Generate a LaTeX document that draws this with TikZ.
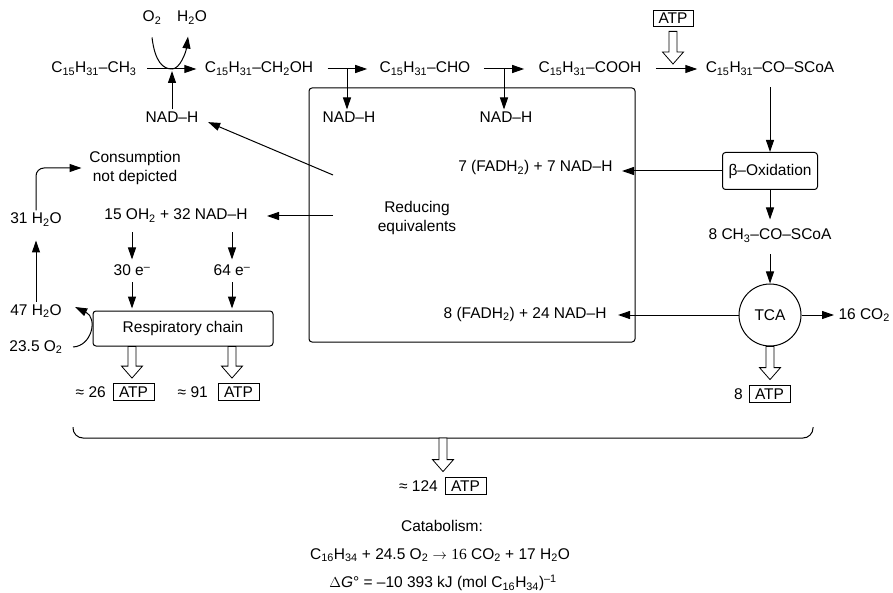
\documentclass[tikz,border=0pt]{standalone}
\usepackage{fontspec}
\setmainfont{Liberation Sans}
\newfontfamily\serifnum{Liberation Serif}
\usetikzlibrary{arrows.meta,positioning,calc}

\newcommand{\chsub}[1]{\textsubscript{#1}}
% hollow block arrow, pointing down
\newcommand{\hollowarrow}[3][0pt]{%
  \draw[hollow] let \p1=(#2), \p2=(#3) in
    (\x1-4pt,\y1-#1) -- (\x1-4pt,\y2+17pt) -- (\x1-10.5pt,\y2+17pt)
    -- (\x1,\y2+5pt) -- (\x1+10.5pt,\y2+17pt) -- (\x1+4pt,\y2+17pt)
    -- (\x1+4pt,\y1-#1) -- cycle;}

\begin{document}
\begin{tikzpicture}[x=1pt, y=-1pt, line width=1pt, font=\fontsize{15.5}{19}\selectfont,
    arr/.style={-{Triangle[length=12pt,width=8pt]}},
    lab/.style={inner sep=2pt, text height=11pt, text depth=3pt},
    roundbox/.style={draw, rounded corners=3pt},
    atpbox/.style={draw, line width=0.8pt, inner sep=0pt, minimum width=41pt, minimum height=17pt, text height=11pt, text depth=0pt},
    hollow/.style={draw, fill=white, line width=0.8pt, line join=miter}]
  \useasboundingbox (0,0) rectangle (893,593);

  % top row
  \node[lab] (ch3) at (94,69) {C\chsub{15}H\chsub{31}–CH\chsub{3}};
  \node[lab] (ch2oh) at (259,69) {C\chsub{15}H\chsub{31}–CH\chsub{2}OH};
  \node[lab] (cho) at (425,69) {C\chsub{15}H\chsub{31}–CHO};
  \node[lab] (cooh) at (590,69) {C\chsub{15}H\chsub{31}–COOH};
  \node[lab] (coscoa) at (770,69) {C\chsub{15}H\chsub{31}–CO–SCoA};
  \node[lab] (o2) at (152,18) {O\chsub{2}};
  \node[lab] (h2o) at (192,18) {H\chsub{2}O};
  \node[lab] (nad0) at (172,119) {NAD–H};
  \node[lab] (nad1) at (349,119) {NAD–H};
  \node[lab] (nad2) at (506,119) {NAD–H};
  \node[atpbox, minimum width=40pt, minimum height=16pt] (atp0) at (673,18) {ATP};
  \coordinate (r1) at (172,69);
  \coordinate (r2) at (347,69);
  \coordinate (r3) at (504,69);
  \coordinate (r4) at (673,69);

  \draw[arr, shorten <=8pt, shorten >=6pt] (ch3) -- (ch2oh);
  \draw[arr, shorten <=12pt, shorten >=10pt] (ch2oh) -- (cho);
  \draw[arr, shorten <=11pt, shorten >=12pt] (cho) -- (cooh);
  \draw[arr, shorten <=12pt, shorten >=6pt] (cooh) -- (coscoa);
  \draw[arr, shorten >=2pt] (nad0) -- (r1);
  \draw[arr] ([yshift=-10pt]o2.south) .. controls (155,62) and (163,69) .. (r1)
    .. controls (180,69) and (186,52) .. ([shift={(-4pt,-9pt)}]h2o.south);
  \draw[arr] (r2) -- (r2 |- nad1.north);
  \draw[arr] (r3) -- (r3 |- nad2.north);
  \hollowarrow[5pt]{atp0.south}{r4}

  % pool of reducing equivalents
  \node[roundbox, minimum width=326pt, minimum height=254pt] (pool) at (472,215) {};
  \node[align=center] (redeq) at (417,218) {Reducing\\equivalents};
  \coordinate (re1) at (333,175);
  \coordinate (re2) at (333,216);

  % right column
  \node[roundbox, minimum width=95pt, minimum height=37pt] (beta) at (770,171) {β–Oxidation};
  \node[lab] (acetyl) at (770,236) {8 CH\chsub{3}–CO–SCoA};
  \node[draw, circle, minimum size=62pt] (tca) at (770,315) {TCA};
  \node[lab, anchor=west] (co2) at (836,315) {16 CO\chsub{2}};
  \node[lab, anchor=east] (fad7) at (615,168) {7 (FADH\chsub{2}) + 7 NAD–H};
  \node[lab, anchor=east] (fad8) at (609,314) {8 (FADH\chsub{2}) + 24 NAD–H};
  \node[atpbox] (atp3) at (769.5,393.5) {ATP};
  \node[base left=2pt of atp3] (n8) {8};

  \draw[arr, shorten <=9pt] (coscoa.south) -- (beta.north);
  \draw[arr, shorten >=7pt] (beta) -- (acetyl);
  \draw[arr, shorten <=9pt] (acetyl) -- (tca);
  \draw[arr, shorten >=7pt] (beta.west) -- (beta.west -| fad7.east);
  \draw[arr, shorten >=9pt] (tca.west) -- (tca.west -| fad8.east);
  \draw[arr, shorten >=2pt] (tca.east) -- (co2.west);
  \hollowarrow{tca.south}{atp3.north}

  % left column
  \node[lab, anchor=east] (oh) at (250,216) {15 OH\chsub{2} + 32 NAD–H};
  \node[lab] (e30) at (132,272) {30 e\textsuperscript{–}};
  \node[lab] (e64) at (232,272) {64 e\textsuperscript{–}};
  \node[roundbox, minimum width=180pt, minimum height=35pt] (resp) at (183,328.5) {Respiratory chain};
  \node[atpbox] (atp1) at (133.5,392) {ATP};
  \node[atpbox] (atp2) at (238.5,392) {ATP};
  \node[base left=3pt of atp1] (n26) {≈ 26};
  \node[base left=6pt of atp2] (n91) {≈ 91};
  \node[lab] (w31) at (36,220) {31 H\chsub{2}O};
  \node[lab] (w47) at (36,311) {47 H\chsub{2}O};
  \node[lab] (o235) at (36,347) {23.5 O\chsub{2}};
  \node[align=center] (cons) at (135,168) {Consumption\\not depicted};

  \draw[arr, shorten >=8pt] (re1) -- (nad0.east);
  \draw[arr, shorten >=17pt] (re2) -- (oh.east);
  \draw[arr, shorten <=7pt, shorten >=3pt] (e30 |- oh.south) -- (e30.north);
  \draw[arr, shorten <=7pt, shorten >=3pt] (e64 |- oh.south) -- (e64.north);
  \draw[arr, shorten <=1pt, shorten >=2pt] (e30.south) -- (e30.south |- resp.north);
  \draw[arr, shorten <=1pt, shorten >=2pt] (e64.south) -- (e64.south |- resp.north);
  \hollowarrow{e30 |- resp.south}{e30 |- atp1.north}
  \hollowarrow{e64 |- resp.south}{e64 |- atp2.north}
  \draw[arr, shorten >=11pt] (w47) -- (w31);
  \draw[arr, rounded corners=8pt, shorten >=4pt] (w31.north) |- (cons.west);
  \draw[arr] ([xshift=8pt]o235.east) .. controls (92,346) and (98,318) .. ([xshift=11pt,yshift=4pt]w47.east);

  % total yield
  \coordinate (sum) at (443,438);
  \draw[rounded corners=10pt] (73,427) |- (sum) -| (813,427);
  \node[atpbox] (atp4) at (465.5,485.5) {ATP};
  \node[base left=3pt of atp4] (n124) {≈ 124};
  \hollowarrow{sum}{atp4.north}
  \node (catab) at (442,526) {Catabolism:};
  \node (eqn) at (440,555) {C\chsub{16}H\chsub{34} + 24.5 O\chsub{2} $\rightarrow$ {\serifnum 16} CO\chsub{2} + 17 H\chsub{2}O};
  \node (dg) at (443,583) {$\Delta$\textit{G}° = –10 393 kJ (mol C\chsub{16}H\chsub{34})\textsuperscript{–1}};
\end{tikzpicture}
\end{document}
